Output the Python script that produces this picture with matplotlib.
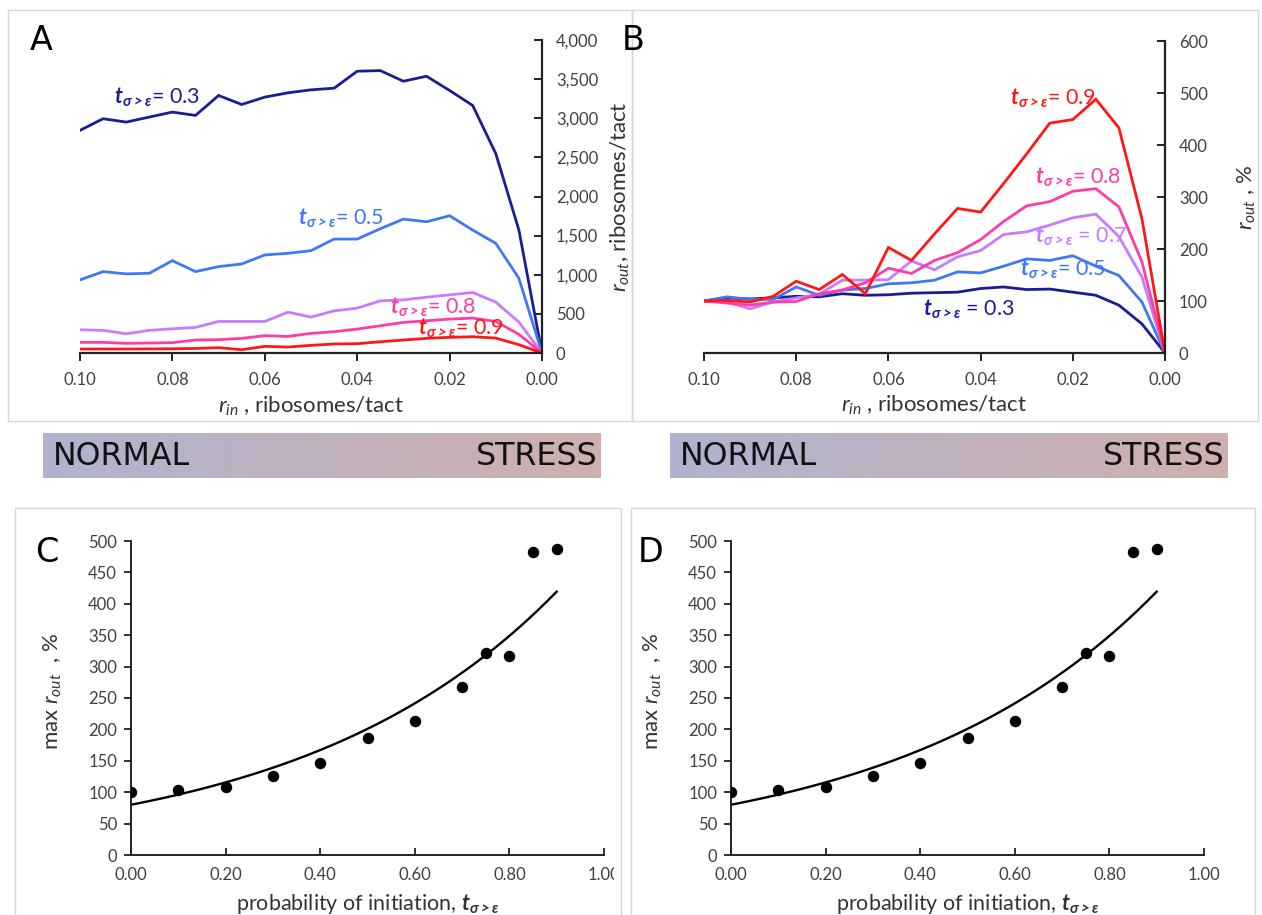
import numpy as np
import matplotlib
matplotlib.use("Agg")
import matplotlib.pyplot as plt
from matplotlib.patches import Rectangle
from matplotlib.ticker import StrMethodFormatter
from matplotlib.transforms import Bbox, TransformedBbox

plt.rcParams['font.family'] = ['Lato', 'DejaVu Sans']
plt.rcParams['mathtext.fontset'] = 'custom'
plt.rcParams['mathtext.rm'] = 'Lato'
plt.rcParams['mathtext.it'] = 'Lato:italic'
plt.rcParams['mathtext.bf'] = 'Lato:bold'
try:
    plt.rcParams['mathtext.bfit'] = 'Lato:bold:italic'
except Exception:
    pass
plt.rcParams['mathtext.fallback'] = 'stixsans'

# ---------------- data ----------------
r_in = [0.100, 0.095, 0.090, 0.085, 0.080, 0.075, 0.070, 0.065, 0.060, 0.055, 0.050,
        0.045, 0.040, 0.035, 0.030, 0.025, 0.020, 0.015, 0.010, 0.005, 0.000]

# Panel A: r_out, ribosomes/tact
A_t03 = [2845, 2994, 2951, 3015, 3079, 3036, 3291, 3176, 3270, 3325, 3363,
         3384, 3601, 3609, 3473, 3537, 3355, 3163, 2548, 1571, 0]
A_t05 = [934, 1040, 1011, 1019, 1180, 1040, 1104, 1138, 1253, 1274, 1308,
         1456, 1456, 1588, 1711, 1677, 1754, 1571, 1401, 955, 0]
A_t07 = [297, 289, 246, 289, 310, 327, 403, 403, 403, 522, 459,
         539, 573, 667, 679, 713, 743, 773, 650, 395, 0]
A_t08 = [136, 136, 123, 127, 132, 166, 170, 187, 221, 212, 251,
         272, 306, 348, 391, 412, 433, 446, 403, 238, 0]
A_t09 = [51, 51, 51, 52, 54, 58, 68, 42, 85, 76, 98,
         115, 119, 144, 166, 187, 200, 208, 191, 106, 0]

# Panel B: r_out, % of value at r_in = 0.10
B_t03 = [100, 106, 104, 106, 109, 108, 114, 111, 112, 115, 116,
         117, 124, 127, 122, 123, 117, 111, 92, 56, 0]
B_t05 = [100, 108, 103, 103, 127, 111, 121, 124, 133, 135, 140,
         156, 154, 167, 181, 178, 187, 167, 149, 98, 0]
B_t07 = [100, 98, 85, 98, 106, 113, 140, 140, 141, 177, 160,
         185, 197, 228, 233, 246, 260, 267, 224, 146, 0]
B_t08 = [100, 96, 92, 98, 99, 114, 121, 135, 163, 153, 178,
         193, 218, 253, 283, 291, 311, 316, 281, 175, 0]
B_t09 = [100, 101, 98, 109, 138, 122, 151, 114, 203, 178, 229,
         278, 271, 326, 383, 442, 449, 488, 433, 258, 0]

# Panels C/D: max r_out vs probability of initiation
t_init = [0.0, 0.1, 0.2, 0.3, 0.4, 0.5, 0.6, 0.7, 0.75, 0.8, 0.85, 0.9]
max_rout = [100, 103, 108, 126, 146, 186, 213, 267, 321, 317, 482, 488]

labels_t = ['0.3', '0.5', '0.7', '0.8', '0.9']
colors = ['#1c1c96', '#3f78f7', '#c77bff', '#ff3ca6', '#ff1717']

# ---------------- figure ----------------
W, H = 1262, 915
fig = plt.figure(figsize=(W / 100, H / 100), dpi=100)


def rect(l, r, t, b):
    return [l / W, (H - b) / H, (r - l) / W, (b - t) / H]


def fig_rect(l, t, r, b):
    fig.patches.append(Rectangle((l / W, (H - b) / H), (r - l) / W, (b - t) / H,
                                 transform=fig.transFigure, fill=False,
                                 edgecolor='#d6d6d6', lw=1.0, zorder=0))


fig_rect(8, 10, 632, 421)
fig_rect(632, 10, 1258, 421)
fig_rect(15, 508, 621, 920)
fig_rect(631, 508, 1255, 920)

TICK_COL = '#404040'
LAB_COL = '#333333'
TICK_FS = 12
LAB_FS = 16
ANN_FS = 15.5
tsub = r"$\mathbfit{t}_{\mathbfit{\sigma>\varepsilon}}$"


def style_top(ax, ymax, ystep, fmt, ylab, ylab_x):
    ax.set_xlim(0.10, 0.00)
    ax.set_ylim(0, ymax)
    ax.yaxis.tick_right()
    ax.yaxis.set_label_position('right')
    for s in ['left', 'top']:
        ax.spines[s].set_visible(False)
    for s in ['right', 'bottom']:
        ax.spines[s].set_linewidth(1.6)
        ax.spines[s].set_color('#222222')
    ax.set_xticks(np.arange(0.0, 0.101, 0.02))
    ax.xaxis.set_major_formatter(StrMethodFormatter('{x:.2f}'))
    ax.set_yticks(np.arange(0, ymax + 1, ystep))
    ax.yaxis.set_major_formatter(StrMethodFormatter(fmt))
    ax.tick_params(axis='x', direction='out', length=6, width=1.4, colors='#222222',
                   labelcolor=TICK_COL, labelsize=TICK_FS, pad=8)
    ax.tick_params(axis='y', direction='in', length=6, width=1.4, colors='#222222',
                   labelcolor=TICK_COL, labelsize=TICK_FS, pad=10)
    ax.set_xlabel(r"$\mathit{r}_{\mathit{in}}$ , ribosomes/tact", fontsize=LAB_FS,
                  color=LAB_COL)
    ax.xaxis.set_label_coords(0.5, -0.132)
    ax.set_ylabel(ylab, fontsize=LAB_FS, color=LAB_COL)
    ax.yaxis.set_label_coords(ylab_x, 0.5)
    ax.patch.set_alpha(0)


# Panel A
axA = fig.add_axes(rect(80, 542, 40, 353))
for ys, c in zip([A_t03, A_t05, A_t07, A_t08, A_t09], colors):
    axA.plot(r_in, ys, color=c, lw=2.0, solid_joinstyle='miter')
style_top(axA, 4000, 500, '{x:,.0f}',
          r"$\mathit{r}_{\mathit{out}}$, ribosomes/tact", 1.145)
A_ann = [(0.0927, 3270, '0.3', colors[0]), (0.0529, 1720, '0.5', colors[1]),
         (0.0328, 586, '0.8', colors[3]), (0.0268, 318, '0.9', colors[4])]
for x, y, lab, c in A_ann:
    axA.text(x, y, tsub + "= " + lab, color=c, fontsize=ANN_FS, ha='left', va='center')

# Panel B
axB = fig.add_axes(rect(704, 1165, 41, 353))
for ys, c in zip([B_t03, B_t05, B_t07, B_t08, B_t09], colors):
    axB.plot(r_in, ys, color=c, lw=2.0, solid_joinstyle='miter')
style_top(axB, 600, 100, '{x:.0f}', r"$\mathit{r}_{\mathit{out}}$ , %", 1.153)
B_ann = [(0.0336, 489, '0.9', colors[4]), (0.0283, 338, '0.8', colors[3]),
         (0.0283, 224, '0.7', colors[2]), (0.0314, 160, '0.5', colors[1]),
         (0.0526, 83, '0.3', colors[0])]
for x, y, lab, c in B_ann:
    sep = " = " if lab in ('0.7', '0.3') else "= "
    axB.text(x, y, tsub + sep + lab, color=c, fontsize=ANN_FS, ha='left', va='center')

fig.text(30 / W, 1 - 40 / H, 'A', fontsize=24, family='DejaVu Sans', va='center', ha='left')
fig.text(622 / W, 1 - 40 / H, 'B', fontsize=24, family='DejaVu Sans', va='center', ha='left')

# Gradient bars
grad = np.linspace(0, 1, 256)
c_left = np.array([0.690, 0.702, 0.808])
c_right = np.array([0.808, 0.690, 0.682])
img = (c_left[None, :] * (1 - grad[:, None]) + c_right[None, :] * grad[:, None])[None, :, :]
for l, r in [(43, 601), (670, 1228)]:
    gax = fig.add_axes(rect(l, r, 433, 478))
    gax.imshow(img, aspect='auto', extent=[0, 1, 0, 1])
    gax.set_axis_off()
    gax.text(0.017, 0.47, 'NORMAL', fontsize=22.8, family='DejaVu Sans', ha='left',
             va='center', transform=gax.transAxes, color='#111111')
    gax.text(0.993, 0.47, 'STRESS', fontsize=22.8, family='DejaVu Sans', ha='right',
             va='center', transform=gax.transAxes, color='#111111')

# Panels C and D: exponential trendline fitted to the points
coef = np.polyfit(t_init, np.log(max_rout), 1)
xfit = np.linspace(0.0, 0.9, 200)
yfit = np.exp(np.polyval(coef, xfit))


def style_bottom(ax):
    ax.scatter(t_init, max_rout, s=68, color='black', zorder=3, linewidths=0)
    ax.plot(xfit, yfit, color='black', lw=1.7)
    ax.set_xlim(0, 1.0)
    ax.set_ylim(0, 500)
    for s in ['right', 'top']:
        ax.spines[s].set_visible(False)
    for s in ['left', 'bottom']:
        ax.spines[s].set_linewidth(1.4)
        ax.spines[s].set_color('#222222')
    ax.set_xticks(np.arange(0, 1.01, 0.2))
    ax.xaxis.set_major_formatter(StrMethodFormatter('{x:.2f}'))
    ax.set_yticks(np.arange(0, 501, 50))
    ax.tick_params(axis='x', direction='in', length=5, width=1.3, colors='#222222',
                   labelcolor=TICK_COL, labelsize=TICK_FS, pad=9)
    ax.tick_params(axis='y', direction='out', length=5, width=1.3, colors='#222222',
                   labelcolor=TICK_COL, labelsize=TICK_FS, pad=5)
    ax.set_xlabel("probability of initiation, " + tsub, fontsize=15.5, color=LAB_COL)
    ax.xaxis.set_label_coords(0.5, -0.118)
    ax.set_ylabel(r"max $\mathit{r}_{\mathit{out}}$  , %", fontsize=LAB_FS, color=LAB_COL)
    ax.yaxis.set_label_coords(-0.142, 0.52)
    ax.patch.set_alpha(0)


axC = fig.add_axes(rect(131, 604, 541, 855))
style_bottom(axC)
axD = fig.add_axes(rect(731, 1204, 541, 855))
style_bottom(axD)

# the reference crops the last x tick label of panel C at the panel border
fig.canvas.draw()
clipC = TransformedBbox(Bbox.from_extents(0, 0, 614 / W, 1), fig.transFigure)
for lbl in axC.get_xticklabels():
    lbl.set_clip_box(clipC)
    lbl.set_clip_on(True)

fig.text(35 / W, 1 - 553 / H, 'C', fontsize=24, family='DejaVu Sans', va='center', ha='left')
fig.text(638 / W, 1 - 553 / H, 'D', fontsize=24, family='DejaVu Sans', va='center', ha='left')

fig.savefig('out.png', dpi=100)
